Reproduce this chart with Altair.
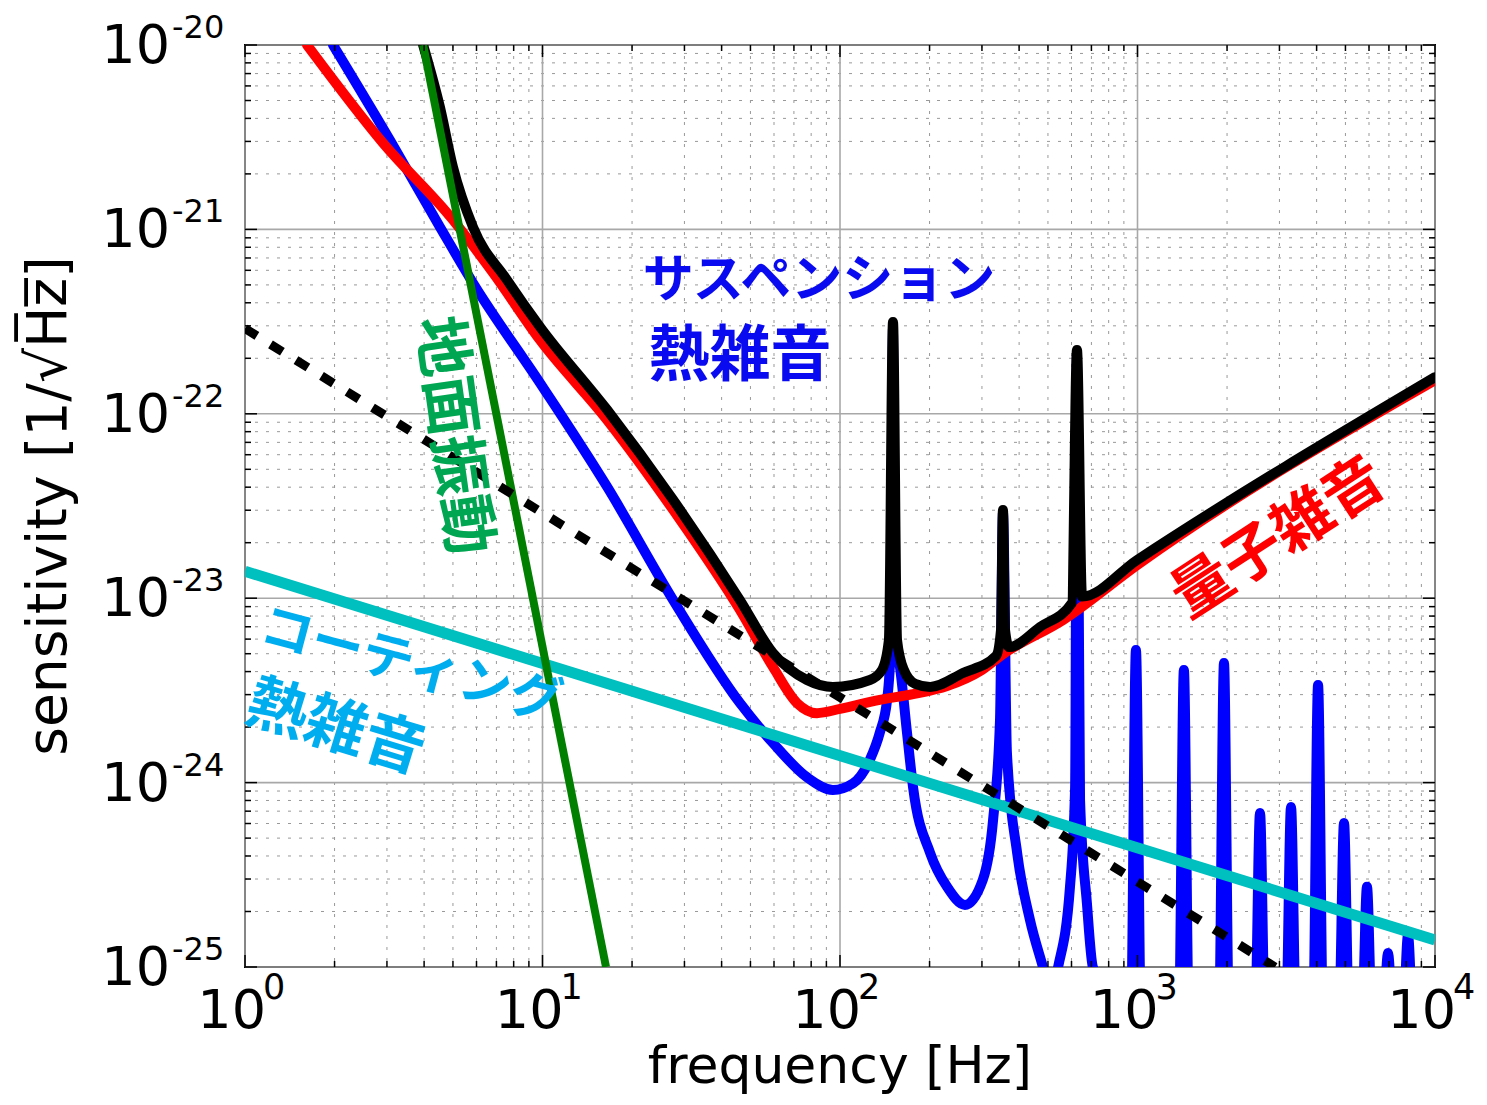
import altair as alt
import pandas as pd

# ---------------- data ----------------
# quantum noise (red)
quantum_f = [1.616, 2.91, 5.00, 6.82, 9.81, 16.5, 27.5, 46.1, 59.5, 71.7, 83.7, 100,
             136, 176, 229, 296, 353, 562, 996, 10000]
quantum_s = [1e-20, 2.94e-21, 1.125e-21, 5.81e-22, 2.51e-22, 9.25e-23, 3.01e-23, 8.63e-24,
             4.24e-24, 2.70e-24, 2.38e-24, 2.51e-24, 2.81e-24, 3.02e-24, 3.34e-24, 4.03e-24,
             4.98e-24, 7.62e-24, 1.51e-23, 1.52e-22]

# total sensitivity (black)
total_f = [3.97, 4.52, 5.00, 5.84, 7.60, 9.81, 16.5, 27.5, 46.1, 59.5, 77.4, 94.7, 126,
           138.4, 146, 150.7, 155.5, 164, 179, 201, 259, 334.5, 347.7, 353, 358.6, 370,
           470, 602, 626, 651, 996, 10000]
total_s = [1e-20, 4.61e-21, 2.18e-21, 1.03e-21, 5.32e-22, 2.96e-22, 1.05e-22, 3.41e-23,
           9.77e-24, 5.05e-24, 3.60e-24, 3.30e-24, 3.60e-24, 4.08e-24, 5.93e-24, 3.15e-22,
           5.93e-24, 4.08e-24, 3.43e-24, 3.30e-24, 3.93e-24, 4.86e-24, 6.73e-24, 3.01e-23,
           6.73e-24, 5.43e-24, 6.98e-24, 9.42e-24, 2.22e-22, 1.02e-23, 1.61e-23, 1.58e-22]

# suspension thermal noise (blue)
susp_f = [1.976, 3.07, 4.52, 5.84, 9.81, 16.5, 27.5, 46.1, 59.5, 77.4, 94.7, 110.6, 126,
          136, 144, 148.4, 150.7, 153, 159, 168, 176, 201, 229, 263, 302, 327, 345, 353,
          364, 394, 435, 481, 512, 541, 593, 617, 626, 641, 676, 708,
          950, 988, 1028, 1377, 1432, 1489, 1878, 1953, 2031, 2482, 2581, 2684,
          3155, 3281, 3412, 3889, 4045, 4207, 4755, 4945, 5143, 5680, 5907, 6143,
          6684, 6951, 7229, 7802, 8114, 8439, 10000]
susp_s = [1e-20, 3.05e-21, 1.03e-21, 5.12e-22, 1.47e-22, 4.01e-23, 9.77e-24, 2.70e-24,
          1.64e-24, 1.07e-24, 9.12e-25, 9.9e-25, 1.33e-24, 1.86e-24, 2.81e-24, 5.93e-24,
          2.9e-22, 5.93e-24, 4.24e-24, 1.86e-24, 9.46e-25, 4.15e-25, 2.72e-25, 2.17e-25,
          2.97e-25, 6.27e-25, 2.18e-24, 2.9e-23, 1.45e-24, 4.15e-25, 1.80e-25, 1.0e-25,
          7e-26, 1.0e-25, 2.72e-25, 9.46e-25, 2.1e-22, 8.05e-25, 2.22e-25, 1.0e-25,
          5e-26, 5.24e-24, 5e-26, 5e-26, 4.08e-24, 5e-26, 5e-26, 4.45e-24, 5e-26,
          5e-26, 6.85e-25, 5e-26, 5e-26, 7.38e-25, 5e-26, 5e-26, 3.38e-24, 5e-26,
          5e-26, 6.04e-25, 5e-26, 5e-26, 2.72e-25, 5e-26, 5e-26, 1.19e-25, 5e-26,
          5e-26, 1.49e-25, 5e-26, 5e-26]

# seismic noise (green)
seismic_f = [3.97, 16.35]
seismic_s = [1e-20, 1e-25]

# coating thermal noise (cyan)
coating_f = [1, 10000]
coating_s = [1.40e-23, 1.40e-25]

# reference (dashed black)
ref_f = [1, 2900]
ref_s = [2.9e-22, 1e-25]

# tick values / labels
x_major = [1, 10, 100, 1000, 10000]
x_exp = ["0", "1", "2", "3", "4"]
y_major = [1e-20, 1e-21, 1e-22, 1e-23, 1e-24, 1e-25]
y_exp = ["-20", "-21", "-22", "-23", "-24", "-25"]
x_minor = [k * d for d in [1, 10, 100, 1000] for k in range(2, 10)]
y_minor = [k * d for d in [1e-25, 1e-24, 1e-23, 1e-22, 1e-21] for k in range(2, 10)]

# annotation texts and anchor positions (data coordinates)
label_text = ["サスペンション", "熱雑音", "量子雑音", "地面振動", "コーティング", "熱雑音"]
label_f = [85.0, 46.1, 2990, 4.96, 3.61, 2.01]
label_s = [5.19e-22, 2.01e-22, 2.09e-23, 7.59e-23, 4.29e-24, 1.95e-24]

# ---------------- chart ----------------
W, H = 1190, 922
xs = alt.Scale(type="log", domain=[1, 10000], nice=False)
ys = alt.Scale(type="log", domain=[1e-25, 1e-20], nice=False)
XA = dict(scale=xs, axis=None)
YA = dict(scale=ys, axis=None)


def curve(f, s, **mk):
    df = pd.DataFrame({"f": f, "s": s, "i": list(range(len(f)))})
    return alt.Chart(df).mark_line(clip=True, strokeJoin="round", **mk).encode(
        x=alt.X("f:Q", **XA), y=alt.Y("s:Q", **YA), order="i:Q")


def vrules(vals, **mk):
    return alt.Chart(pd.DataFrame({"v": vals})).mark_rule(**mk).encode(
        x=alt.X("v:Q", **XA))


def hrules(vals, **mk):
    return alt.Chart(pd.DataFrame({"v": vals})).mark_rule(**mk).encode(
        y=alt.Y("v:Q", **YA))


def xticks(vals, length, top):
    y0, y1 = (0, length) if top else (H - length, H)
    return alt.Chart(pd.DataFrame({"v": vals})).mark_rule(color="black", strokeWidth=1.5).encode(
        x=alt.X("v:Q", **XA), y=alt.value(y0), y2=alt.value(y1))


def yticks(vals, length, left):
    x0, x1 = (0, length) if left else (W - length, W)
    return alt.Chart(pd.DataFrame({"v": vals})).mark_rule(color="black", strokeWidth=1.5).encode(
        y=alt.Y("v:Q", **YA), x=alt.value(x0), x2=alt.value(x1))


grid_minor = dict(color="#999999", strokeWidth=1, strokeDash=[3, 8])
grid_major = dict(color="#a8a8a8", strokeWidth=1.6)

layers = [
    vrules(x_minor, **grid_minor),
    hrules(y_minor, **grid_minor),
    vrules(x_major, **grid_major),
    hrules(y_major, **grid_major),
    curve(susp_f, susp_s, color="#0000ff", strokeWidth=10, strokeCap="round",
          interpolate="monotone"),
    curve(quantum_f, quantum_s, color="#ff0000", strokeWidth=10, strokeCap="round",
          interpolate="monotone"),
    curve(total_f, total_s, color="#000000", strokeWidth=10, strokeCap="round",
          interpolate="monotone"),
    curve(coating_f, coating_s, color="#00bfbf", strokeWidth=11, strokeCap="butt"),
    curve(seismic_f, seismic_s, color="#007f00", strokeWidth=8, strokeCap="butt"),
    curve(ref_f, ref_s, color="#000000", strokeWidth=9, strokeCap="butt",
          strokeDash=[14, 16]),
]

# inward ticks on all four sides
for top in (True, False):
    layers.append(xticks(x_major, 12, top))
    layers.append(xticks(x_minor, 6, top))
for left in (True, False):
    layers.append(yticks(y_major, 12, left))
    layers.append(yticks(y_minor, 6, left))

# tick labels: "10" with a raised exponent
ydf = pd.DataFrame({"v": y_major, "b": ["10"] * len(y_major), "e": y_exp})
layers.append(alt.Chart(ydf).mark_text(align="right", baseline="alphabetic", dy=18,
                                       fontSize=54, font="DejaVu Sans", color="black").encode(
    y=alt.Y("v:Q", **YA), x=alt.value(-75), text="b:N"))
layers.append(alt.Chart(ydf).mark_text(align="left", baseline="alphabetic", dy=-7,
                                       fontSize=32, font="DejaVu Sans", color="black").encode(
    y=alt.Y("v:Q", **YA), x=alt.value(-73), text="e:N"))
xdf = pd.DataFrame({"v": x_major, "b": ["10"] * len(x_major), "e": x_exp})
layers.append(alt.Chart(xdf).mark_text(align="right", baseline="alphabetic", dx=21, dy=61,
                                       fontSize=54, font="DejaVu Sans", color="black").encode(
    x=alt.X("v:Q", **XA), y=alt.value(H), text="b:N"))
layers.append(alt.Chart(xdf).mark_text(align="left", baseline="alphabetic", dx=18, dy=32,
                                       fontSize=35, font="DejaVu Sans", color="black").encode(
    x=alt.X("v:Q", **XA), y=alt.value(H), text="e:N"))

# axis titles
layers.append(alt.Chart(pd.DataFrame({"t": ["frequency [Hz]"]})).mark_text(
    align="center", baseline="alphabetic", fontSize=52, font="DejaVu Sans", color="black").encode(
    x=alt.value(W / 2), y=alt.value(H + 116), text="t:N"))
layers.append(alt.Chart(pd.DataFrame({"t": ["sensitivity [1/\u221aH\u0305z\u0305]"]})).mark_text(
    align="center", baseline="alphabetic", angle=270, fontSize=55, font="DejaVu Sans",
    color="black").encode(x=alt.value(-179), y=alt.value(461), text="t:N"))

# Japanese annotations
label_style = [
    dict(color="#0a0af0", fontSize=51, angle=0),
    dict(color="#0a0af0", fontSize=61, angle=0),
    dict(color="#ff0000", fontSize=60, angle=327),
    dict(color="#00a651", fontSize=60, angle=82),
    dict(color="#00aeef", fontSize=52, angle=15),
    dict(color="#00aeef", fontSize=61, angle=17),
]
for t, f, s, st in zip(label_text, label_f, label_s, label_style):
    d = pd.DataFrame({"f": [f], "s": [s], "t": [t]})
    layers.append(alt.Chart(d).mark_text(
        align="center", baseline="middle", font="Noto Sans CJK JP", fontWeight="bold",
        **st).encode(x=alt.X("f:Q", **XA), y=alt.Y("s:Q", **YA), text="t:N"))

chart = alt.layer(*layers).properties(
    width=W, height=H,
    autosize=alt.AutoSizeParams(type="none"),
    padding={"left": 237, "top": 37, "right": 44, "bottom": 130},
).configure_view(stroke="black", strokeWidth=2)

chart.save("out.html", embed_options={"renderer": "svg", "actions": False})
